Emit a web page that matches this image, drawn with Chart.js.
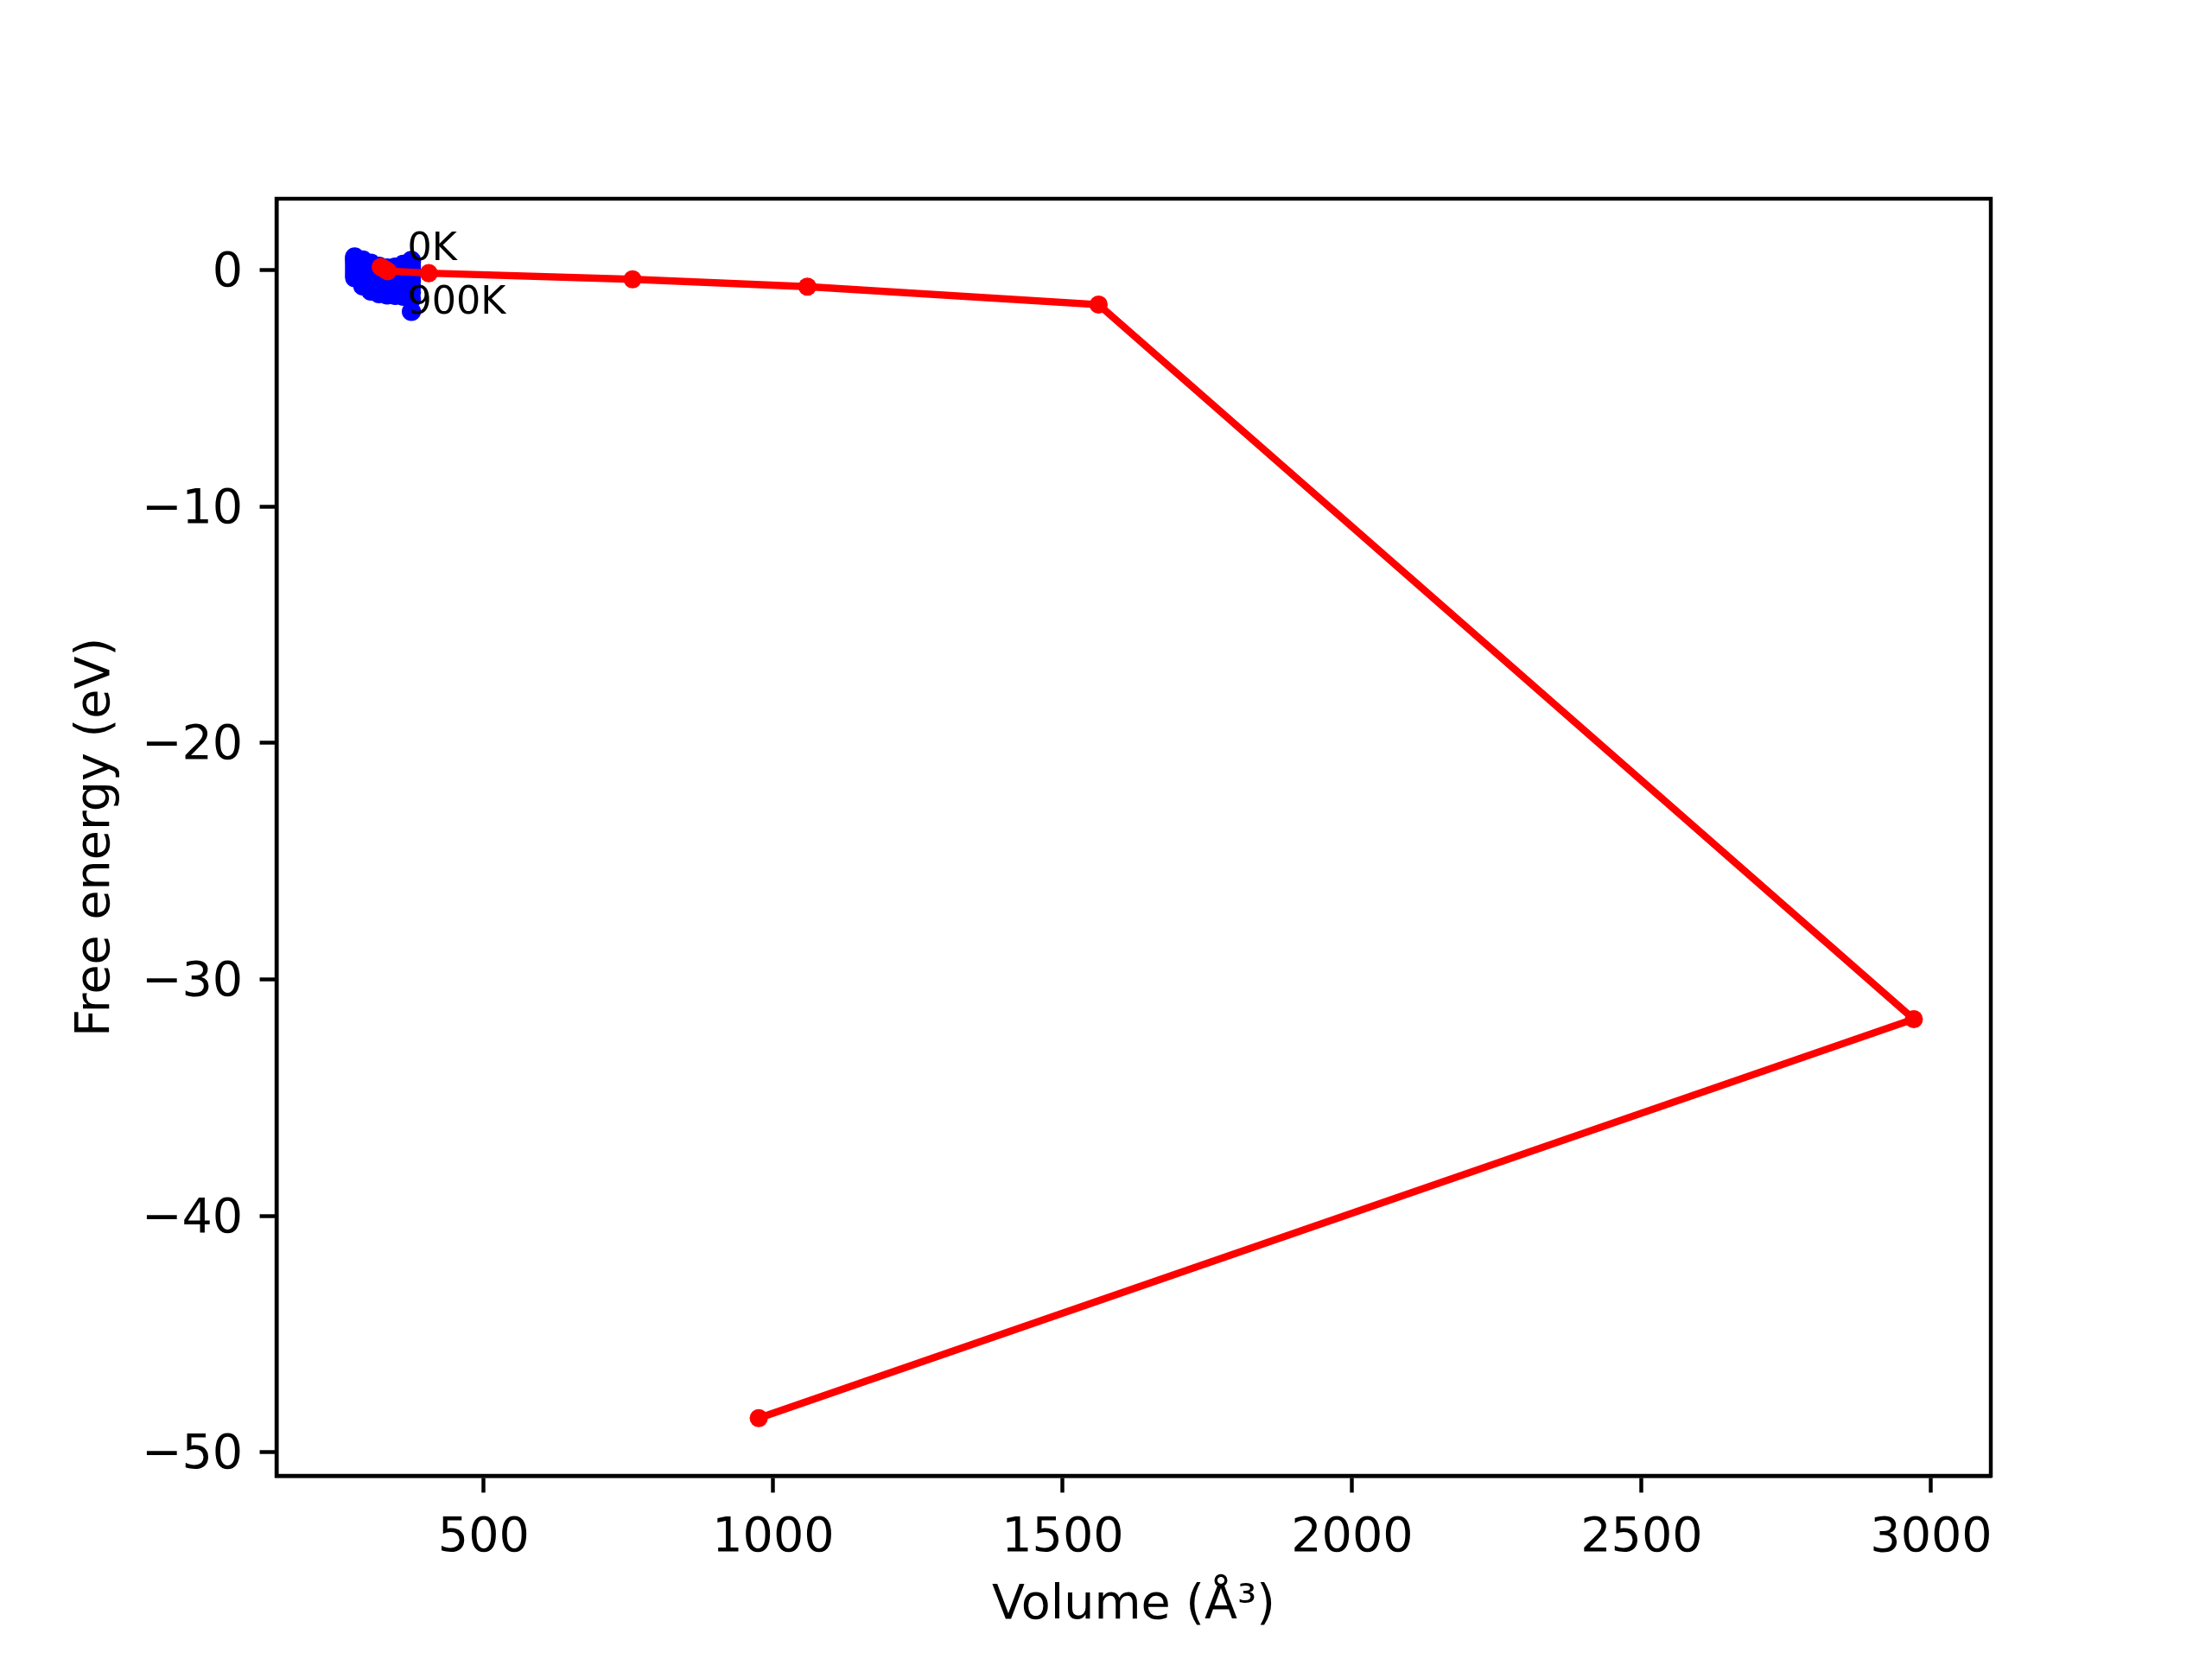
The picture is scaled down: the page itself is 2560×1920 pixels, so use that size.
<!DOCTYPE html>
<html lang="en">
<head>
  <meta charset="UTF-8" />
  <title>Free energy vs volume</title>
  <style>
    html, body {
      margin: 0;
      padding: 0;
      background: #ffffff;
    }
    canvas {
      display: block;
    }
  </style>
</head>
<body>
  <canvas id="chart" width="2560" height="1920" style="width:2560px;height:1920px"></canvas>

  <script src="https://cdn.jsdelivr.net/npm/chart.js"></script>
  <script>
    // blue curves: F(V) for each temperature
    const volumes = [277, 291, 305, 319, 333, 347, 361, 375];
    const f0K   = [0.57, 0.44, 0.30, 0.17, 0.10, 0.14, 0.26, 0.42];
    const f100K = [0.53, 0.40, 0.26, 0.13, 0.05, 0.08, 0.19, 0.34];
    const f200K = [0.46, 0.32, 0.17, 0.03, -0.06, -0.04, 0.06, 0.19];
    const f300K = [0.37, 0.22, 0.06, -0.09, -0.19, -0.19, -0.11, 0.01];
    const f400K = [0.26, 0.09, -0.08, -0.24, -0.35, -0.37, -0.31, -0.20];
    const f500K = [0.14, -0.04, -0.23, -0.40, -0.52, -0.56, -0.52, -0.43];
    const f600K = [0.02, -0.19, -0.39, -0.57, -0.70, -0.76, -0.75, -0.68];
    const f700K = [-0.10, -0.34, -0.55, -0.74, -0.87, -0.94, -0.96, -0.93];
    const f800K = [-0.21, -0.50, -0.73, -0.89, -0.99, -1.03, -1.06, -1.22];
    const f900K = [-0.31, -0.66, -0.88, -0.99, -1.04, -1.06, -1.10, -1.74];
    const blueCurves = [f0K, f100K, f200K, f300K, f400K, f500K, f600K, f700K, f800K, f900K];

    // red line: fitted minimum for each temperature
    const minVolumes = [322, 326, 330, 334, 405, 757, 1059, 1562, 2970, 975];
    const minEnergies = [0.14, 0.09, 0.03, -0.03, -0.12, -0.38, -0.69, -1.45, -31.68, -48.56];

    // labels next to the blue cluster
    const noteText = ['0K', '900K'];
    const noteX = [368, 368];
    const noteY = [0.43, -1.82];

    const xTicks = [500, 1000, 1500, 2000, 2500, 3000];
    const yTicks = [0, -10, -20, -30, -40, -50];

    const PT = 400 / 72;   // figure drawn at 400 dpi
    const FONT = 'DejaVu Sans';

    Chart.defaults.font.family = FONT;
    Chart.defaults.color = '#000000';

    const toPoints = (xs, ys) => xs.map((x, i) => ({ x: x, y: ys[i] }));

    const datasets = blueCurves.map(f => ({
      data: toPoints(volumes, f),
      showLine: true,
      borderColor: '#0000ff',
      backgroundColor: '#0000ff',
      borderWidth: 1.5 * PT,
      pointRadius: 2 * PT,
      pointBorderWidth: 0,
      pointHoverRadius: 2 * PT,
      order: 1
    }));

    datasets.push({
      data: toPoints(minVolumes, minEnergies),
      showLine: true,
      borderColor: '#ff0000',
      backgroundColor: '#ff0000',
      borderWidth: 1.5 * PT,
      pointRadius: 1.9 * PT,
      pointBorderWidth: 0,
      pointHoverRadius: 1.9 * PT,
      order: 0
    });

    const frame = {
      id: 'frame',
      afterDraw(chart) {
        const { ctx, chartArea: a, scales } = chart;
        ctx.save();
        // annotations
        ctx.fillStyle = '#000000';
        ctx.font = (8 * PT) + 'px "' + FONT + '"';
        ctx.textAlign = 'left';
        ctx.textBaseline = 'alphabetic';
        noteText.forEach((t, i) => {
          ctx.fillText(t, scales.x.getPixelForValue(noteX[i]), scales.y.getPixelForValue(noteY[i]));
        });
        // axes box
        ctx.strokeStyle = '#000000';
        ctx.lineWidth = 0.8 * PT;
        ctx.strokeRect(a.left, a.top, a.right - a.left, a.bottom - a.top);
        ctx.restore();
      }
    };

    const tickGrid = {
      drawOnChartArea: false,
      drawTicks: true,
      tickLength: 3.5 * PT,
      tickWidth: 0.8 * PT,
      tickColor: '#000000'
    };

    new Chart(document.getElementById('chart').getContext('2d'), {
      type: 'scatter',
      data: { datasets },
      plugins: [frame],
      options: {
        responsive: false,
        animation: false,
        devicePixelRatio: 1,
        layout: { padding: { left: 0, top: 230, right: 256, bottom: 0 } },
        plugins: {
          legend: { display: false },
          tooltip: { enabled: false }
        },
        scales: {
          x: {
            type: 'linear',
            position: 'bottom',
            min: 142,
            max: 3103,
            afterBuildTicks: s => { s.ticks = xTicks.map(v => ({ value: v })); },
            afterFit: s => { s.height = 1920 - 1708; },
            grid: tickGrid,
            border: { display: true, color: '#000000', width: 0.8 * PT },
            ticks: {
              font: { size: 10 * PT },
              padding: 3.5 * PT,
              maxRotation: 0,
              autoSkip: false,
              callback: v => String(v)
            },
            title: {
              display: true,
              text: 'Volume (Å³)',
              font: { size: 10 * PT },
              padding: { top: 0, bottom: 28 }
            }
          },
          y: {
            type: 'linear',
            position: 'left',
            min: -51.0,
            max: 3.03,
            afterBuildTicks: s => { s.ticks = yTicks.map(v => ({ value: v })); },
            afterFit: s => { s.width = 320; },
            grid: tickGrid,
            border: { display: true, color: '#000000', width: 0.8 * PT },
            ticks: {
              font: { size: 10 * PT },
              padding: 3.5 * PT,
              labelOffset: 4,
              autoSkip: false,
              callback: v => (v < 0 ? '\u2212' + Math.abs(v) : String(v))
            },
            title: {
              display: true,
              text: 'Free energy (eV)',
              font: { size: 10 * PT },
              padding: { top: 78, bottom: 0 }
            }
          }
        }
      }
    });
  </script>
</body>
</html>
